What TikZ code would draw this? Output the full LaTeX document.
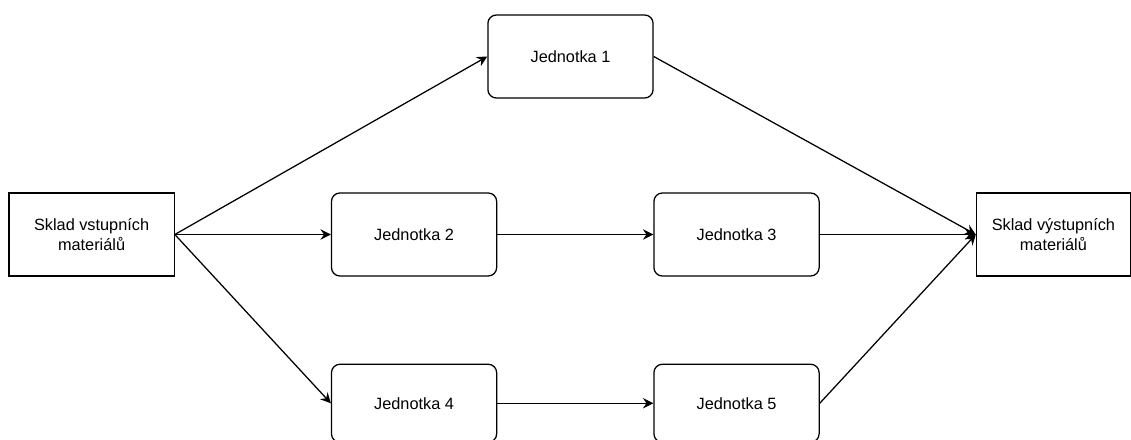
\documentclass[tikz,border=0pt]{standalone}
\usepackage{fontspec}
\setmainfont{Liberation Sans}
\usetikzlibrary{arrows.meta,positioning,calc}

\begin{document}
\begin{tikzpicture}[
  node distance=3.9cm,
  box/.style={rectangle, rounded corners=6pt, draw=black, line width=0.9pt,
              minimum width=4.13cm, minimum height=2.075cm, align=center,
              font=\fontsize{11.6}{14}\selectfont},
  store/.style={box, sharp corners},
  arr/.style={-{Stealth[length=2.6mm, width=2.6mm, inset=0.9mm]}, line width=0.9pt}
]
\useasboundingbox (0,0) rectangle (28.275,11);
\node[store] (in) at (2.29,5.1375) {Sklad vstupních\\materiálů};
\node[box, right=of in] (j2) {Jednotka 2};
\node[box, right=of j2] (j3) {Jednotka 3};
\node[store, minimum width=3.85cm, right=of j3] (out) {Sklad výstupních\\materiálů};
\node[box] (j1) at ([xshift=-0.12cm, yshift=4.45cm]$(j2)!0.5!(j3)$) {Jednotka 1};
\node[box, minimum height=1.95cm, below=2.175cm of j2] (j4) {Jednotka 4};
\node[box, minimum height=1.95cm, below=2.175cm of j3] (j5) {Jednotka 5};
% inputs
\draw[arr] (in.east) -- (j1.west);
\draw[arr] (in.east) -- (j2.west);
\draw[arr] (in.east) -- (j4.west);
% chains
\draw[arr] (j2) -- (j3);
\draw[arr] (j4) -- (j5);
% outputs
\draw[arr] (j1.east) -- (out.west);
\draw[arr] (j3.east) -- (out.west);
\draw[arr] (j5.east) -- (out.west);
\end{tikzpicture}
\end{document}
